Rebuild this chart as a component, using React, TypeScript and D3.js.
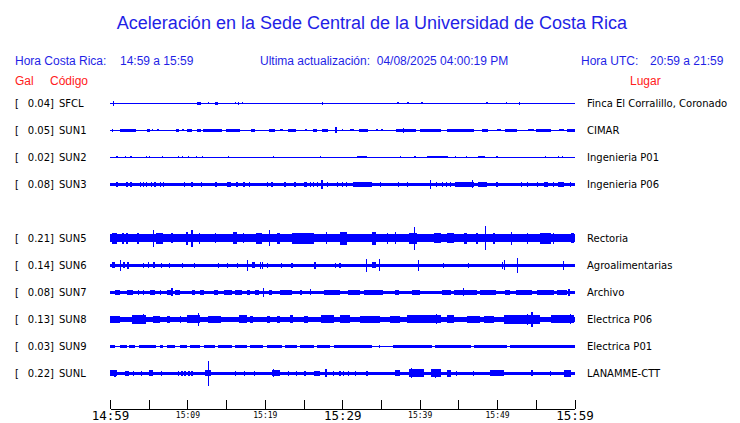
import React, { useEffect, useRef } from "react";
import * as d3 from "d3";

// rows top to bottom; SUN4 sent nothing, so its row stays empty
const slots = ["SFCL", "SUN1", "SUN2", "SUN3", "SUN4", "SUN5", "SUN6", "SUN7", "SUN8", "SUN9", "SUNL"];
const codes = ["SFCL", "SUN1", "SUN2", "SUN3", "SUN5", "SUN6", "SUN7", "SUN8", "SUN9", "SUNL"];
const places = [
  "Finca El Corralillo, Coronado",
  "CIMAR",
  "Ingenieria P01",
  "Ingenieria P06",
  "Rectoria",
  "Agroalimentarias",
  "Archivo",
  "Electrica P06",
  "Electrica P01",
  "LANAMME-CTT",
];
const peakGal = [0.04, 0.05, 0.02, 0.08, 0.21, 0.14, 0.08, 0.13, 0.03, 0.22];
// background noise level of each trace (Gal)
const noiseGal = [0.008, 0.012, 0.008, 0.027, 0.074, 0.027, 0.024, 0.042, 0.009, 0.03];

// bursts: [from minute, to minute, amplitude Gal], minutes counted from 14:59
const burstsSFCL = [
  [0.5, 0.5, 0.04], [11.3, 11.8, 0.022], [12.7, 12.7, 0.02], [13.5, 13.9, 0.022], [16.2, 16.2, 0.018],
  [16.6, 16.6, 0.022], [17.1, 17.1, 0.015], [27.5, 27.5, 0.03], [37.2, 37.2, 0.015], [38.5, 38.5, 0.015],
  [40.3, 40.3, 0.015], [48.7, 48.7, 0.015], [51.2, 51.2, 0.015], [52.9, 52.9, 0.022],
];
const burstsSUN1 = [
  [0.3, 0.3, 0.025], [1.3, 3.4, 0.022], [4.8, 5.2, 0.022], [5.5, 5.5, 0.02], [6.2, 6.2, 0.02], [8.5, 8.9, 0.022],
  [9.3, 9.6, 0.02], [10, 10.6, 0.025], [11.2, 11.7, 0.022], [12, 14.5, 0.027], [15, 16.8, 0.027], [18.2, 18.7, 0.022],
  [20.6, 21.3, 0.027], [22, 22.4, 0.02], [23, 24, 0.027], [25.2, 25.5, 0.02], [26.2, 26.8, 0.022], [27.4, 28.2, 0.022],
  [29.2, 29.2, 0.05], [30, 30, 0.02], [31, 31.5, 0.02], [32.2, 33.3, 0.022], [34.5, 34.5, 0.02], [35, 35.3, 0.02],
  [37, 39.5, 0.027], [37.9, 37.9, 0.04], [40.1, 42.8, 0.025], [43.5, 47, 0.025], [48, 48.8, 0.022], [50, 50.5, 0.02],
  [51, 52.6, 0.025], [54, 54.8, 0.02], [55, 57, 0.025], [58, 58.6, 0.02], [59, 60, 0.025],
];
const burstsSUN2 = [
  [0.9, 0.9, 0.015], [1.6, 1.6, 0.012], [2.0, 2.0, 0.015], [2.7, 2.7, 0.015], [3.3, 3.3, 0.012], [4.7, 4.7, 0.015],
  [5.1, 5.1, 0.015], [6.8, 6.8, 0.015], [8.8, 8.8, 0.015], [9.4, 9.4, 0.015], [9.8, 9.8, 0.012], [10.1, 10.1, 0.015],
  [10.4, 10.4, 0.012], [11.2, 11.2, 0.015], [11.5, 11.5, 0.012], [11.9, 11.9, 0.015], [14.3, 14.3, 0.012],
  [15.3, 15.3, 0.015], [19.2, 19.2, 0.012], [20.3, 20.3, 0.012], [21.1, 21.1, 0.018], [24.8, 24.8, 0.012],
  [26, 26, 0.012], [27.2, 27.2, 0.018], [28.2, 28.2, 0.012], [29.5, 29.5, 0.012], [31.9, 33.2, 0.015],
  [36.6, 36.6, 0.012], [37.5, 37.5, 0.015], [39.4, 39.4, 0.015], [41, 43.6, 0.018], [44.6, 44.6, 0.015],
  [45.3, 45.3, 0.012], [46.1, 46.1, 0.015], [47.5, 48.5, 0.015], [50, 50, 0.015], [50.7, 50.7, 0.012],
  [53.3, 53.3, 0.012], [56.3, 56.3, 0.015], [56.9, 56.9, 0.012], [57.9, 57.9, 0.015], [58.5, 58.5, 0.015],
  [59.5, 59.5, 0.012],
];
const burstsSUN3 = [
  [0.9, 0.9, 0.045], [2.2, 2.2, 0.045], [2.7, 2.7, 0.04], [3.9, 3.9, 0.045], [4.3, 4.3, 0.04], [4.7, 4.7, 0.045],
  [5.4, 5.4, 0.04], [5.8, 5.8, 0.045], [6.5, 6.5, 0.04], [6.9, 6.9, 0.045], [9.6, 9.6, 0.045], [10.6, 10.6, 0.04],
  [11.8, 11.8, 0.045], [13.7, 13.7, 0.04], [15.1, 15.6, 0.045], [16.4, 16.4, 0.04], [17.3, 17.3, 0.04],
  [18, 18, 0.04], [20.3, 20.3, 0.04], [20.8, 21.1, 0.045], [22.6, 22.6, 0.04], [23.9, 23.9, 0.04],
  [25.1, 25.4, 0.045], [25.9, 25.9, 0.045], [26.3, 26.3, 0.04], [26.8, 26.8, 0.045], [27.2, 27.5, 0.075],
  [28.1, 28.1, 0.045], [29.4, 29.4, 0.04], [30, 30, 0.045], [30.6, 30.6, 0.045], [31.4, 33.9, 0.04],
  [34.9, 34.9, 0.04], [37.3, 37.3, 0.04], [38.4, 38.4, 0.04], [41.4, 41.4, 0.08], [42.2, 42.2, 0.045],
  [42.9, 42.9, 0.04], [43.5, 43.5, 0.04], [44, 44, 0.045], [44.6, 47, 0.045], [46.8, 46.8, 0.07],
  [47.5, 48.7, 0.045], [50, 50, 0.04], [53.2, 53.2, 0.045], [53.9, 53.9, 0.04], [55.2, 55.2, 0.04],
  [56, 56.6, 0.045], [57.3, 57.3, 0.04], [57.9, 58.6, 0.045], [59.5, 59.5, 0.04],
];
const burstsSUN5 = [
  [0.2, 0.9, 0.1], [1.5, 1.8, 0.1], [2.2, 2.2, 0.095], [3.5, 3.8, 0.1], [5.6, 5.6, 0.147], [5.9, 6.9, 0.1],
  [8, 8, 0.09], [9.8, 10.1, 0.11], [10.6, 10.6, 0.15], [11.6, 11.6, 0.095], [13.6, 13.6, 0.09], [15.9, 16.4, 0.105],
  [17.2, 17.2, 0.09], [18.9, 19.6, 0.095], [20.6, 20.6, 0.14], [21.6, 22, 0.1], [23.5, 26.3, 0.1], [28, 28, 0.105],
  [29.7, 30.6, 0.11], [33.8, 34.3, 0.12], [35.8, 35.8, 0.1], [36.9, 36.9, 0.105], [38.6, 39.7, 0.1],
  [39.3, 39.3, 0.2], [41.8, 42.7, 0.09], [43.5, 44.4, 0.09], [45.7, 46.1, 0.095], [47.4, 47.4, 0.095],
  [48.5, 48.5, 0.21], [49.6, 49.6, 0.1], [51.9, 51.9, 0.11], [53.9, 53.9, 0.095], [55.6, 56.9, 0.1],
  [57.3, 57.3, 0.095], [59.5, 59.9, 0.09],
];
const burstsSUN6 = [
  [0.3, 0.7, 0.05], [1.4, 1.4, 0.095], [1.8, 1.8, 0.05], [2.2, 2.5, 0.06], [4.3, 4.3, 0.04], [5, 5, 0.05],
  [5.6, 5.8, 0.05], [6.7, 6.7, 0.04], [7.7, 7.7, 0.04], [9.4, 9.4, 0.04], [10.9, 10.9, 0.04], [14, 14, 0.04],
  [15.2, 15.2, 0.04], [16.5, 16.5, 0.04], [17.8, 17.8, 0.095], [18.4, 18.7, 0.05], [19.4, 19.4, 0.065],
  [19.7, 19.7, 0.06], [20.3, 20.3, 0.04], [22.2, 22.2, 0.04], [23.5, 23.5, 0.04], [26.3, 26.6, 0.06],
  [29.1, 29.1, 0.04], [29.7, 29.7, 0.04], [33.1, 33.1, 0.12], [33.9, 34.3, 0.05], [34.8, 34.8, 0.11],
  [39.9, 39.9, 0.1], [43.1, 43.1, 0.04], [46.3, 46.3, 0.04], [50.7, 50.7, 0.06], [51, 51, 0.09],
  [52.6, 52.6, 0.135], [58.6, 58.6, 0.08],
];
const burstsSUN7 = [
  [0.65, 1.3, 0.04], [2.15, 3, 0.04], [3.7, 3.7, 0.04], [4.3, 4.3, 0.04], [5.2, 5.8, 0.04], [6.5, 6.5, 0.04],
  [7.3, 7.9, 0.04], [8, 8, 0.07], [8.4, 9.1, 0.04], [10.6, 11, 0.04], [11.6, 12.1, 0.04], [13.4, 14, 0.04],
  [14.7, 15.7, 0.04], [16.2, 17, 0.04], [17.7, 18.1, 0.04], [18.7, 19.2, 0.04], [19.8, 19.8, 0.08],
  [20.5, 20.9, 0.04], [22, 23.5, 0.04], [24.6, 24.8, 0.04], [25.9, 25.9, 0.055], [27.6, 29.7, 0.04],
  [30.8, 32.3, 0.04], [32.8, 35.3, 0.04], [36.8, 37.3, 0.04], [39, 40.1, 0.04], [42.9, 44, 0.04],
  [44.4, 47.4, 0.04], [45.7, 45.7, 0.07], [47.8, 49.8, 0.04], [51, 51.7, 0.04], [52.4, 54.5, 0.04],
  [55.2, 57.3, 0.04], [57.8, 59, 0.04], [59.3, 59.3, 0.065],
];
const burstsSUN8 = [
  [0, 1.3, 0.065], [2.8, 4.7, 0.075], [4.3, 4.3, 0.09], [5.6, 6.5, 0.065], [7.3, 7.8, 0.06], [9.1, 9.1, 0.06],
  [9.9, 11.6, 0.07], [11.4, 11.4, 0.12], [12.7, 14.4, 0.065], [16.6, 17.7, 0.07], [18.1, 18.5, 0.065],
  [20.3, 20.7, 0.065], [21.6, 22, 0.065], [23.3, 23.7, 0.07], [25, 25.6, 0.065], [27.2, 28.9, 0.07],
  [29.7, 31, 0.07], [32.3, 34.9, 0.065], [36.2, 37.5, 0.065], [38.4, 42.7, 0.07], [42.2, 42.2, 0.09],
  [43.5, 44.4, 0.07], [46.1, 47.8, 0.065], [48.3, 49.6, 0.06], [50.9, 55.6, 0.075], [53.9, 53.9, 0.1],
  [54.5, 54.5, 0.13], [56.9, 59.9, 0.07], [59.5, 59.5, 0.09],
];
const burstsSUN9 = [
  [0, 0.65, 0.024], [1.3, 2.15, 0.024], [2.4, 3.2, 0.024], [3.7, 6, 0.024], [6.5, 6.9, 0.024], [7.3, 8.4, 0.024],
  [9.1, 9.9, 0.024], [10.3, 11.6, 0.024], [12.1, 13.6, 0.024], [14, 15.7, 0.024], [16.2, 17.7, 0.024],
  [18.1, 19.8, 0.024], [20.3, 22.2, 0.024], [22.6, 24.1, 0.024], [24.6, 26.3, 0.024], [26.7, 28.4, 0.024],
  [28.9, 33.8, 0.024], [34.7, 34.9, 0.024], [36.6, 41.6, 0.024], [42, 46.6, 0.024], [47, 51.3, 0.024],
  [51.7, 60, 0.024], [52.6, 52.6, 0.03],
];
const burstsSUNL = [
  [0, 0.9, 0.05], [0.65, 0.65, 0.065], [1.9, 2.4, 0.045], [3, 3, 0.045], [4.1, 4.1, 0.045], [5, 5.6, 0.05],
  [6.7, 6.7, 0.045], [8.8, 8.8, 0.042], [9.3, 9.3, 0.042], [9.7, 9.7, 0.042], [10.2, 10.2, 0.042],
  [10.6, 10.6, 0.042], [12.3, 13.1, 0.055], [12.7, 12.7, 0.22], [16.2, 16.2, 0.045], [17.4, 17.4, 0.045],
  [18.7, 18.7, 0.045], [20.9, 22, 0.05], [21.1, 21.1, 0.068], [23.1, 23.1, 0.045], [24.1, 24.1, 0.045],
  [25.2, 25.2, 0.045], [26.3, 27.1, 0.045], [27.9, 27.9, 0.068], [28.9, 28.9, 0.045], [29.7, 29.7, 0.045],
  [30.2, 30.2, 0.045], [30.8, 30.8, 0.045], [31.7, 31.7, 0.045], [33.2, 33.2, 0.045], [36.8, 37.5, 0.05],
  [38.6, 40.5, 0.07], [38.9, 38.9, 0.09], [41.4, 42.7, 0.07], [42, 42, 0.085], [43.5, 44, 0.06],
  [44.8, 44.8, 0.045], [47, 47, 0.045], [49.1, 50.9, 0.05], [54.5, 54.5, 0.05], [56.9, 56.9, 0.045],
  [58.6, 59.5, 0.065],
];
const bursts = [burstsSFCL, burstsSUN1, burstsSUN2, burstsSUN3, burstsSUN5, burstsSUN6, burstsSUN7, burstsSUN8, burstsSUN9, burstsSUNL];

const windowStart = new Date(2025, 3, 8, 14, 59);
const windowMinutes = 60;
const tickEvery = 5;

const BLUE = "#1f1fe6";
const TRACE = "#0000ff";
const RED = "#ff2020";

const App = () => {
  const ref = useRef(null);

  useEffect(() => {
    const svg = d3.select(ref.current);
    svg.selectAll("*").remove();

    const x = d3.scaleLinear().domain([0, windowMinutes]).range([110, 574.5]);
    const y = d3.scalePoint().domain(slots).range([103.3, 373.3]);
    const amp = d3.scaleLinear().domain([0, 0.22]).range([0, 12.4]);
    const sans = "'Liberation Sans', Arial, sans-serif";
    const dv = "'DejaVu Sans', sans-serif";

    svg.append("text").attr("x", 372).attr("y", 29).attr("text-anchor", "middle")
      .attr("font-family", sans).attr("font-size", 18).attr("fill", BLUE)
      .text("Aceleración en la Sede Central de la Universidad de Costa Rica");

    const header = [
      [15, "Hora Costa Rica:"], [120, "14:59 a 15:59"],
      [260, "Ultima actualización:  04/08/2025 04:00:19 PM"],
      [581, "Hora UTC:"], [650, "20:59 a 21:59"],
    ];
    svg.append("g").selectAll("text").data(header).join("text")
      .attr("x", d => d[0]).attr("y", 64.5)
      .attr("font-family", sans).attr("font-size", 12).attr("fill", BLUE)
      .style("white-space", "pre")
      .text(d => d[1]);

    svg.append("g").selectAll("text").data([[15, "Gal"], [50, "Código"], [630, "Lugar"]]).join("text")
      .attr("x", d => d[0]).attr("y", 84.5)
      .attr("font-family", sans).attr("font-size", 12).attr("fill", RED)
      .text(d => d[1]);

    const rows = svg.append("g").selectAll("g").data(codes).join("g")
      .attr("transform", d => `translate(0,${y(d)})`);

    rows.append("text").attr("x", 15).attr("y", 4).attr("font-family", dv).attr("font-size", 10).text("[");
    rows.append("text").attr("x", 54).attr("y", 4).attr("text-anchor", "end").attr("font-family", dv)
      .attr("font-size", 10).text((d, i) => peakGal[i].toFixed(2) + "]");
    rows.append("text").attr("x", 59).attr("y", 4).attr("font-family", dv).attr("font-size", 10).text(d => d);
    rows.append("text").attr("x", 587).attr("y", 4).attr("font-family", dv).attr("font-size", 10)
      .text((d, i) => places[i]);

    rows.append("rect")
      .attr("x", x(0)).attr("width", x(windowMinutes) - x(0))
      .attr("y", (d, i) => -Math.max(0.5, amp(noiseGal[i])))
      .attr("height", (d, i) => Math.max(1, 2 * amp(noiseGal[i])))
      .attr("fill", TRACE).attr("shape-rendering", "crispEdges");

    rows.each(function (d, i) {
      d3.select(this).selectAll("rect.burst").data(bursts[i]).join("rect")
        .attr("class", "burst")
        .attr("x", b => x(b[0]) - (b[1] === b[0] ? 0.6 : 0))
        .attr("width", b => Math.max(1.2, x(b[1]) - x(b[0])))
        .attr("y", b => -amp(b[2]))
        .attr("height", b => 2 * amp(b[2]))
        .attr("fill", TRACE).attr("shape-rendering", "crispEdges");
    });

    // time axis
    const xt = d3.scaleTime()
      .domain([windowStart, d3.timeMinute.offset(windowStart, windowMinutes)])
      .range([110, 574.5]);
    const tickMinutes = d3.range(0, windowMinutes + 1, tickEvery);
    const fmt = d3.timeFormat("%H:%M");
    const axis = d3.axisBottom(xt)
      .tickValues(tickMinutes.map(m => d3.timeMinute.offset(windowStart, m)))
      .tickSizeInner(-9).tickSizeOuter(0).tickPadding(2)
      .tickFormat((t, i) => (tickMinutes[i] % 10 === 0 ? fmt(t) : ""));
    const ag = svg.append("g").attr("transform", "translate(0,409)").call(axis);
    ag.attr("font-family", "'DejaVu Sans Mono', monospace");
    ag.selectAll("path, line").attr("stroke", "#000").attr("shape-rendering", "crispEdges");
    ag.selectAll("text").attr("fill", "#000")
      .attr("font-size", (t, i) => (tickMinutes[i] % 30 === 0 ? 12.5 : 8))
      .attr("dy", (t, i) => (tickMinutes[i] % 30 === 0 ? "0.71em" : "0.9em"));
  }, []);

  return (
    <svg ref={ref} width={740} height={423} style={{ position: "absolute", left: 0, top: 0, background: "#fff" }} />
  );
};

export default App;
